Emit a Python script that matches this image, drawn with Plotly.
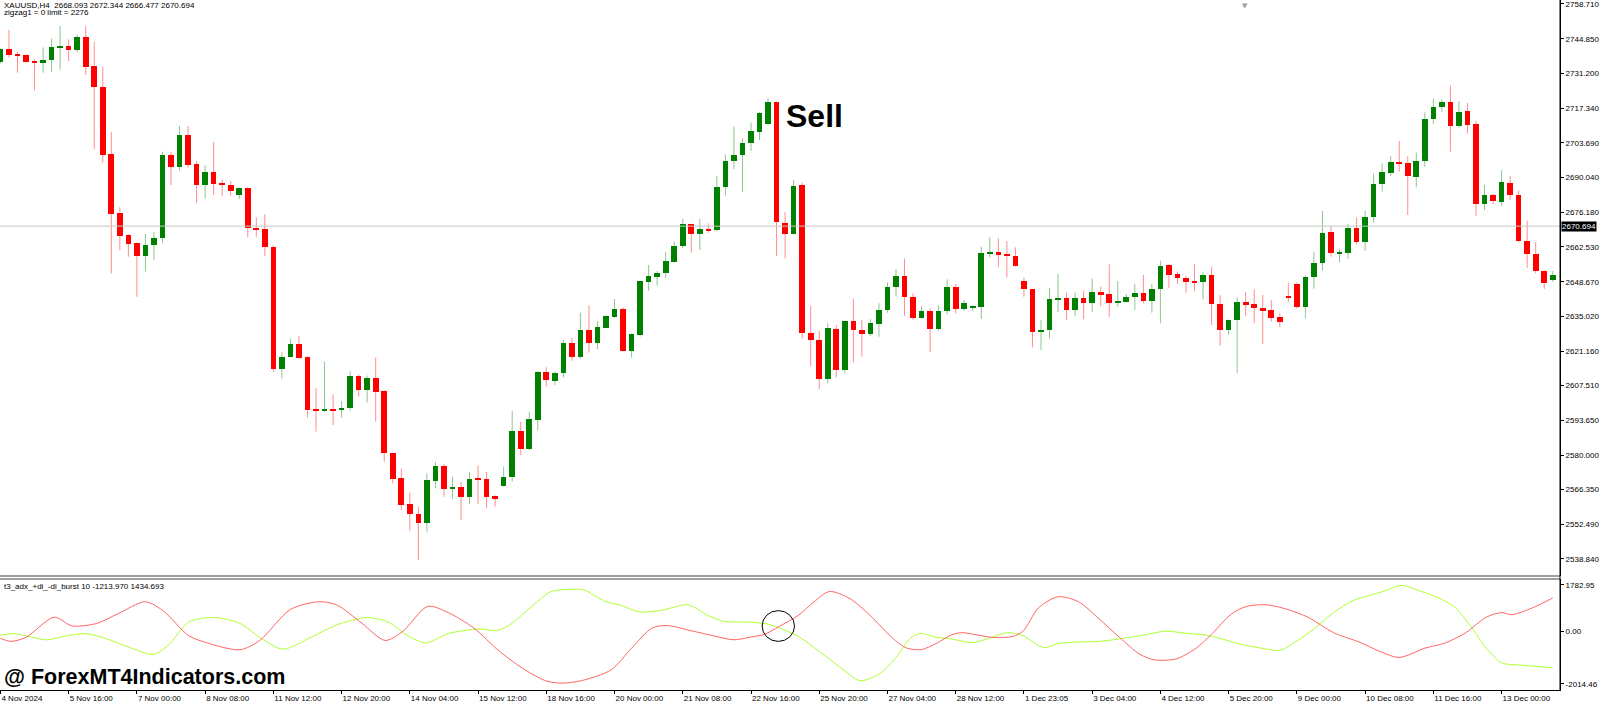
import plotly.graph_objects as go

# XAUUSD H4 candles
opens = [2735.6, 2740.8, 2738.6, 2738.5, 2736.1, 2735.2, 2736.5, 2741.5, 2742.2, 2740.5,
         2745.8, 2734.1, 2725.8, 2699.1, 2675.8, 2667.2, 2664.1, 2658.9, 2663.1, 2665.9,
         2698.8, 2694.1, 2706.8, 2695.2, 2687.1, 2692.0, 2687.7, 2687.0, 2683.0, 2685.7,
         2670.1, 2669.4, 2662.6, 2614.2, 2619.0, 2624.0, 2618.7, 2598.2, 2597.6, 2598.4,
         2597.9, 2598.5, 2611.5, 2605.8, 2610.7, 2605.2, 2580.8, 2570.9, 2560.6, 2556.6,
         2553.2, 2569.8, 2575.8, 2566.7, 2567.5, 2563.3, 2570.9, 2570.6, 2563.8, 2567.7,
         2571.2, 2589.7, 2582.5, 2593.9, 2612.9, 2609.5, 2612.4, 2624.3, 2618.7, 2629.5,
         2624.3, 2630.5, 2634.8, 2638.0, 2621.4, 2627.6, 2648.6, 2650.6, 2652.1, 2656.6,
         2662.8, 2671.4, 2667.6, 2669.7, 2669.0, 2686.2, 2696.4, 2698.8, 2703.8, 2708.1,
         2711.0, 2719.8, 2672.1, 2667.6, 2686.9, 2628.2, 2625.6, 2610.1, 2630.1, 2613.7,
         2633.1, 2629.6, 2627.8, 2631.8, 2637.5, 2646.4, 2650.9, 2642.5, 2634.4, 2637.0,
         2630.0, 2637.0, 2646.7, 2637.7, 2638.5, 2638.5, 2659.8, 2660.4, 2659.7, 2658.9,
         2648.9, 2645.6, 2629.0, 2629.5, 2641.6, 2642.1, 2637.5, 2642.1, 2640.1, 2644.6,
         2643.7, 2640.1, 2640.6, 2642.5, 2644.2, 2641.0, 2645.9, 2655.2, 2651.6, 2650.3,
         2648.8, 2648.4, 2651.2, 2640.0, 2629.5, 2633.5, 2640.6, 2639.7, 2638.4, 2637.5,
         2634.6, 2643.0, 2647.6, 2638.8, 2650.4, 2656.1, 2668.2, 2659.9, 2660.2, 2670.0,
         2664.4, 2674.5, 2687.3, 2691.9, 2696.2, 2695.6, 2690.3, 2696.5, 2713.1, 2718.0,
         2719.9, 2710.5, 2716.2, 2711.0, 2679.5, 2682.9, 2680.4, 2687.8, 2683.0, 2664.7,
         2659.8, 2653.0, 2649.4]
highs = [2741.1, 2748.4, 2739.8, 2738.8, 2736.8, 2741.5, 2745.1, 2750.0, 2744.7, 2746.6,
         2750.0, 2743.8, 2733.9, 2708.0, 2678.2, 2667.5, 2664.3, 2667.6, 2668.4, 2700.2,
         2700.2, 2710.4, 2710.4, 2696.5, 2694.8, 2704.0, 2689.2, 2688.6, 2686.0, 2686.1,
         2674.2, 2675.4, 2663.0, 2620.7, 2626.1, 2627.3, 2619.0, 2606.4, 2617.0, 2604.1,
         2601.4, 2613.2, 2611.9, 2611.5, 2618.6, 2605.8, 2581.0, 2574.6, 2565.1, 2559.6,
         2572.8, 2577.2, 2576.5, 2571.4, 2569.2, 2573.3, 2575.9, 2573.3, 2564.0, 2575.4,
         2597.5, 2593.2, 2597.1, 2613.3, 2614.8, 2613.1, 2625.6, 2626.5, 2636.4, 2639.3,
         2633.1, 2635.3, 2641.8, 2638.5, 2628.2, 2649.0, 2655.3, 2652.9, 2660.5, 2664.5,
         2673.5, 2671.7, 2673.5, 2671.8, 2690.6, 2699.0, 2710.1, 2705.5, 2711.7, 2715.9,
         2721.3, 2720.0, 2676.3, 2689.0, 2687.9, 2639.2, 2629.3, 2632.2, 2631.5, 2633.3,
         2641.9, 2633.5, 2633.8, 2640.1, 2648.3, 2653.7, 2657.9, 2644.1, 2639.0, 2638.1,
         2639.4, 2649.6, 2647.8, 2641.4, 2639.4, 2662.6, 2666.3, 2665.9, 2664.8, 2662.3,
         2650.3, 2645.8, 2633.5, 2646.1, 2651.7, 2644.4, 2644.4, 2645.1, 2650.0, 2646.7,
         2655.6, 2648.9, 2643.8, 2647.8, 2651.3, 2647.8, 2657.0, 2655.6, 2652.7, 2650.9,
         2655.6, 2652.7, 2654.6, 2643.3, 2633.7, 2642.5, 2644.6, 2645.7, 2643.4, 2641.4,
         2636.2, 2648.3, 2648.3, 2651.2, 2660.3, 2676.7, 2670.7, 2661.6, 2671.6, 2674.1,
         2676.7, 2691.6, 2695.6, 2698.5, 2704.4, 2698.5, 2699.8, 2715.8, 2721.2, 2720.9,
         2726.4, 2720.3, 2719.5, 2712.5, 2687.0, 2683.4, 2692.9, 2690.6, 2684.8, 2672.9,
         2664.4, 2653.3, 2652.9]
lows = [2735.2, 2737.6, 2731.5, 2735.6, 2724.6, 2731.5, 2731.9, 2732.8, 2736.1, 2739.6,
        2730.6, 2701.1, 2695.8, 2652.0, 2661.2, 2658.6, 2642.7, 2652.7, 2657.3, 2664.1,
        2687.0, 2692.7, 2693.9, 2680.0, 2681.6, 2683.0, 2682.6, 2682.8, 2681.5, 2666.3,
        2666.5, 2658.9, 2613.0, 2610.3, 2618.8, 2618.2, 2594.8, 2589.3, 2597.2, 2591.9,
        2594.8, 2597.6, 2603.1, 2600.8, 2593.2, 2577.4, 2568.8, 2558.2, 2550.1, 2538.4,
        2549.6, 2566.8, 2563.5, 2562.6, 2554.3, 2560.5, 2560.6, 2559.0, 2559.6, 2567.5,
        2569.5, 2580.0, 2582.0, 2589.9, 2607.1, 2607.8, 2610.7, 2617.4, 2618.2, 2620.6,
        2622.0, 2630.2, 2634.4, 2621.0, 2618.6, 2626.9, 2645.1, 2647.1, 2650.2, 2656.3,
        2661.9, 2660.2, 2661.2, 2668.1, 2668.8, 2682.8, 2693.3, 2684.3, 2700.5, 2704.8,
        2710.8, 2658.9, 2657.9, 2667.4, 2626.2, 2615.3, 2606.0, 2608.4, 2610.8, 2612.4,
        2616.7, 2619.0, 2627.2, 2626.9, 2636.4, 2643.0, 2635.2, 2633.5, 2634.0, 2620.7,
        2629.3, 2635.8, 2636.1, 2637.2, 2637.1, 2633.9, 2658.3, 2654.4, 2650.4, 2654.8,
        2642.7, 2622.7, 2621.6, 2626.2, 2636.8, 2633.5, 2635.1, 2633.8, 2636.8, 2639.0,
        2634.8, 2638.8, 2640.4, 2637.5, 2640.1, 2636.4, 2632.2, 2646.3, 2647.8, 2644.3,
        2645.1, 2641.7, 2631.5, 2623.3, 2627.7, 2612.6, 2635.2, 2632.2, 2623.9, 2632.8,
        2630.6, 2640.6, 2638.0, 2634.2, 2645.9, 2653.1, 2658.6, 2656.4, 2657.7, 2663.5,
        2660.9, 2672.1, 2684.4, 2690.6, 2692.3, 2675.1, 2686.1, 2694.3, 2711.2, 2716.0,
        2700.2, 2709.8, 2707.3, 2674.8, 2677.1, 2679.3, 2678.7, 2681.1, 2664.3, 2654.2,
        2652.0, 2645.8, 2648.6]
closes = [2740.8, 2738.5, 2738.2, 2735.9, 2735.2, 2736.7, 2741.8, 2742.2, 2740.5, 2745.8,
          2733.9, 2725.7, 2698.9, 2675.5, 2666.8, 2663.7, 2658.9, 2663.2, 2666.1, 2698.8,
          2694.1, 2706.8, 2694.9, 2687.1, 2692.0, 2687.3, 2687.0, 2684.6, 2685.7, 2670.1,
          2669.4, 2662.6, 2614.2, 2619.0, 2624.0, 2618.5, 2597.9, 2597.6, 2598.2, 2597.7,
          2598.8, 2611.5, 2605.8, 2610.7, 2605.0, 2580.7, 2570.6, 2560.3, 2556.8, 2553.2,
          2570.0, 2575.8, 2566.4, 2567.5, 2563.3, 2570.6, 2570.4, 2563.5, 2562.7, 2571.2,
          2589.7, 2582.5, 2594.2, 2612.9, 2609.7, 2612.7, 2624.5, 2619.0, 2629.5, 2624.3,
          2630.6, 2635.1, 2638.0, 2621.2, 2628.0, 2648.8, 2650.9, 2652.1, 2656.9, 2662.9,
          2671.4, 2667.6, 2669.7, 2669.0, 2686.1, 2696.4, 2698.9, 2703.8, 2708.3, 2715.7,
          2719.8, 2672.2, 2667.6, 2686.6, 2628.2, 2625.6, 2610.1, 2630.3, 2613.7, 2633.1,
          2629.6, 2627.8, 2632.2, 2637.5, 2646.4, 2650.9, 2642.5, 2634.4, 2637.0, 2630.0,
          2637.0, 2646.7, 2637.7, 2640.4, 2638.9, 2659.9, 2660.4, 2659.4, 2658.9, 2655.0,
          2645.6, 2628.9, 2629.7, 2641.7, 2642.2, 2637.5, 2642.1, 2640.4, 2644.6, 2643.3,
          2640.1, 2640.9, 2642.5, 2644.2, 2641.2, 2645.9, 2654.9, 2651.3, 2650.2, 2648.7,
          2648.3, 2651.2, 2640.0, 2629.5, 2633.5, 2640.6, 2639.6, 2638.4, 2637.2, 2634.4,
          2632.9, 2642.5, 2638.8, 2650.4, 2656.1, 2668.1, 2660.2, 2660.4, 2670.0, 2664.4,
          2674.5, 2687.4, 2692.0, 2696.0, 2695.6, 2690.6, 2696.5, 2713.1, 2718.0, 2719.9,
          2710.5, 2716.0, 2710.9, 2679.5, 2682.9, 2680.5, 2688.1, 2683.0, 2664.7, 2659.7,
          2652.8, 2648.3, 2651.3]

# time axis labels, one every 8 bars
time_labels = ["4 Nov 2024", "5 Nov 16:00", "7 Nov 00:00", "8 Nov 08:00", "11 Nov 12:00",
               "12 Nov 20:00", "14 Nov 04:00", "15 Nov 12:00", "18 Nov 16:00", "20 Nov 00:00",
               "21 Nov 08:00", "22 Nov 16:00", "25 Nov 20:00", "27 Nov 04:00", "28 Nov 12:00",
               "1 Dec 23:05", "3 Dec 04:00", "4 Dec 12:00", "5 Dec 20:00", "9 Dec 00:00",
               "10 Dec 08:00", "11 Dec 16:00", "13 Dec 00:00"]
label_step = 8

price_ticks = [2758.71, 2744.85, 2731.20, 2717.34, 2703.69, 2690.04, 2676.18, 2662.53, 2648.67,
               2635.02, 2621.16, 2607.51, 2593.65, 2580.00, 2566.35, 2552.49, 2538.84]
last_price = 2670.694

# t3_adx +di / -di burst indicator, sampled along the bars
red_bar = [0, 1.2, 3.0, 6.3, 8.4, 11.3, 13.7, 17.0, 19.1, 22.1, 24.5, 28.1, 30.4, 34.0, 37.3,
           39.4, 42.4, 45.1, 47.2, 50.1, 52.5, 55.5, 58.5, 61.5, 63.9, 65.7, 68.1, 71.6, 74.0,
           76.4, 78.2, 81.2, 83.6, 86.0, 87.8, 89.6, 91.3, 93.6, 95.4, 97.2, 99.6, 102.0, 104.3,
           106.1, 107.9, 109.7, 111.5, 112.7, 114.5, 116.3, 118.7, 119.9, 121.7, 124.0, 126.4,
           128.8, 131.2, 133.6, 135.4, 137.8, 140.2, 142.0, 144.3, 146.1, 148.5, 150.9, 153.3,
           156.3, 159.3, 161.7, 164.0, 167.0, 169.4, 171.8, 174.2, 176.0, 177.2, 179.6, 182.0]
red_val = [-270, -389, -234, 537, 205, 300, 656, 1130, 774, -175, -472, -709, -353, 834, 1130,
           1012, 300, -353, 3, 952, 715, 122, -768, -1480, -1896, -1991, -1896, -1480, -650,
           122, 216, 3, -175, -329, -234, -116, 181, 620, 1130, 1522, 1249, 596, -175,
           -626, -709, -472, -140, -56, -140, -234, -199, 3, 893, 1320, 1130,
           477, -234, -887, -1101, -1065, -650, -116, 656, 952, 1012, 834, 537,
           -56, -413, -769, -1006, -650, -448, -56, 537, 715, 632, 893, 1273]
green_bar = [0, 1.5, 3.0, 5.4, 7.8, 10.1, 12.5, 14.9, 17.9, 19.7, 22.1, 25.1, 28.1, 30.4, 33.1,
             36.4, 39.4, 43.0, 45.4, 47.8, 49.9, 52.5, 56.1, 58.2, 59.7, 62.1, 64.5, 66.9, 68.4,
             71.0, 72.8, 74.9, 77.6, 80.6, 83.0, 84.8, 87.8, 90.1, 93.6, 96.0, 98.4, 100.8,
             103.2, 105.0, 106.7, 107.9, 109.7, 111.5, 113.9, 115.7, 118.1, 119.9, 122.3, 124.0,
             126.4, 128.8, 131.2, 134.2, 136.6, 139.0, 141.4, 143.2, 145.5, 147.9, 150.0, 152.1,
             153.9, 156.3, 158.7, 160.5, 162.3, 164.3, 166.4, 168.8, 170.6, 172.4, 174.2, 176.0,
             178.4, 182.0]
green_val = [-151, -92, -175, -329, -175, -92, -294, -590, -887, -531, 359, 525, 300, -234, -686,
             -234, 240, 525, 359, -175, -448, -92, 86, 27, 240, 893, 1510, 1605, 1581,
             1130, 988, 739, 810, 1012, 596, 383, 347, 264, -211, -768, -1362, -1896,
             -1599, -1006, -270, -80, -234, -294, -436, -294, -56, -175, -626, -472,
             -413, -389, -294, -140, 3, -80, -151, -294, -508, -650, -733, -353,
             62, 715, 1189, 1368, 1546, 1759, 1546, 1249, 893, 181, -650, -1208,
             -1302, -1397]
ind_ticks = [1782.95, 0.0, -2014.46]
ind_ticktext = ["1782.95", "0.00", "-2014.46"]

UP = "#008000"
DOWN = "#FF0000"
FONT = "Liberation Sans"

n = len(opens)
idx = list(range(n))
body_base = [min(o, c) for o, c in zip(opens, closes)]
body_h = [max(abs(c - o), 0.45) for o, c in zip(opens, closes)]
body_col = [UP if c >= o else DOWN for o, c in zip(opens, closes)]

# wicks, split by colour
wx = {UP: [], DOWN: []}
wy = {UP: [], DOWN: []}
for i in idx:
    col = body_col[i]
    wx[col] += [i, i, None]
    wy[col] += [lows[i], highs[i], None]

fig = go.Figure()
fig.add_trace(go.Scatter(x=wx[DOWN], y=wy[DOWN], mode="lines",
                         line=dict(color="rgba(255,0,0,0.45)", width=1), hoverinfo="skip"))
fig.add_trace(go.Scatter(x=wx[UP], y=wy[UP], mode="lines",
                         line=dict(color="rgba(0,128,0,0.45)", width=1), hoverinfo="skip"))
fig.add_trace(go.Bar(x=idx, y=body_h, base=body_base, width=0.66,
                     marker=dict(color=body_col, line=dict(width=0))))

fig.add_trace(go.Scatter(x=green_bar, y=green_val, mode="lines", yaxis="y2",
                         line=dict(color="#ADFF2F", width=1, shape="spline", smoothing=0.8)))
fig.add_trace(go.Scatter(x=red_bar, y=red_val, mode="lines", yaxis="y2",
                         line=dict(color="#FF6464", width=1, shape="spline", smoothing=0.8)))

W, H = 1600, 708
plot_h = 690
main_bottom = 1 - 576 / plot_h
ind_top = 111 / plot_h

axis_font = dict(family=FONT, size=8, color="black")

fig.update_layout(
    width=W, height=H,
    margin=dict(l=0, r=37, t=0, b=18),
    paper_bgcolor="white", plot_bgcolor="white",
    showlegend=False, bargap=0,
    xaxis=dict(range=[-0.05, 182.85], anchor="y2",
               tickvals=[i * label_step for i in range(len(time_labels))],
               ticktext=time_labels, ticklabelposition="outside right",
               ticks="outside", ticklen=3, tickcolor="black", tickfont=axis_font,
               showgrid=False, zeroline=False, showline=True, linecolor="black", linewidth=1),
    yaxis=dict(domain=[main_bottom, 1], range=[2532.09, 2760.29], side="right",
               tickvals=price_ticks, ticktext=["%.3f" % v for v in price_ticks],
               ticks="outside", ticklen=3, tickcolor="black", tickfont=axis_font,
               ticklabeloverflow="allow",
               showgrid=False, zeroline=False, showline=True, linecolor="black", linewidth=1),
    yaxis2=dict(domain=[0, ind_top], range=[-2252.2, 2001.4], side="right", anchor="x",
                tickvals=ind_ticks, ticktext=ind_ticktext,
                ticks="outside", ticklen=3, tickcolor="black", tickfont=axis_font,
                ticklabeloverflow="allow",
                showgrid=False, zeroline=False, showline=True, linecolor="black", linewidth=1),
)

# current price line and panel separator
fig.add_shape(type="line", xref="paper", yref="y", x0=0, x1=1, y0=last_price, y1=last_price,
              line=dict(color="#C8C8C8", width=1))
fig.add_shape(type="line", xref="paper", yref="paper", x0=0, x1=1, y0=main_bottom, y1=main_bottom,
              line=dict(color="#808080", width=1.5))
fig.add_shape(type="line", xref="paper", yref="paper", x0=0, x1=1, y0=ind_top, y1=ind_top,
              line=dict(color="#808080", width=1.5))
fig.add_shape(type="line", xref="paper", yref="paper", x0=1, x1=1, y0=0, y1=1,
              line=dict(color="black", width=1))
# crossover marker
fig.add_shape(type="circle", xref="x", yref="y2", x0=89.3, x1=93.1, y0=-390, y1=790,
              line=dict(color="black", width=1))

small = dict(family=FONT, size=8, color="black")
fig.add_annotation(xref="paper", yref="paper", x=0.0012, y=1 - 5 / plot_h, xanchor="left",
                   yanchor="middle", showarrow=False, font=small,
                   text="XAUUSD,H4\u00a0 2668.093 2672.344 2666.477 2670.694")
fig.add_annotation(xref="paper", yref="paper", x=0.0012, y=1 - 12.5 / plot_h, xanchor="left",
                   yanchor="middle", showarrow=False, font=small,
                   text="zigzag1 = 0 limit = 2276")
fig.add_annotation(xref="paper", yref="paper", x=0.0012, y=1 - 586 / plot_h, xanchor="left",
                   yanchor="middle", showarrow=False, font=small,
                   text="t3_adx_+di_-di_burst 10 -1213.970 1434.693")
fig.add_annotation(xref="paper", yref="y", x=1, y=last_price, xanchor="left", yanchor="middle",
                   xshift=1, showarrow=False, bgcolor="black", borderpad=0,
                   font=dict(family=FONT, size=8, color="white"), text="2670.694")
fig.add_annotation(xref="paper", yref="paper", x=1247 / 1563, y=1, xanchor="center",
                   yanchor="top", showarrow=False,
                   font=dict(family="DejaVu Sans", size=7, color="#A0A0A0"), text="\u25bc")
fig.add_annotation(xref="x", yref="y", x=95.4, y=2714.3, xanchor="center", yanchor="middle",
                   showarrow=False, font=dict(family=FONT, size=32, color="black"),
                   text="<b>Sell</b>")
fig.add_annotation(xref="paper", yref="paper", x=0.0013, y=1 - 677 / plot_h, xanchor="left",
                   yanchor="middle", showarrow=False, font=dict(family=FONT, size=21.5, color="black"),
                   text="<b>@ ForexMT4Indicators.com</b>")

# page without the default body margin so the figure sits at the window corner
fig.write_html("out.html", config={"displayModeBar": False},
               post_script="document.body.style.margin='0';")
